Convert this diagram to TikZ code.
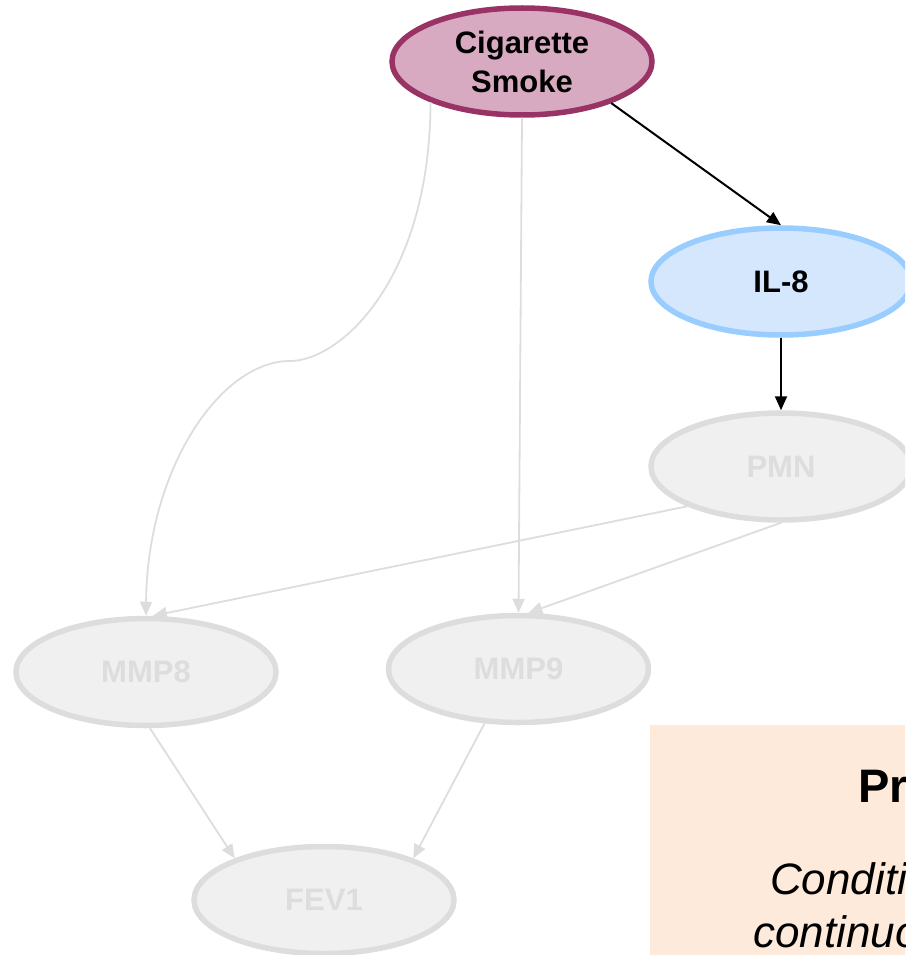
\documentclass[tikz,border=0pt]{standalone}
\usepackage{fontspec}
\setmainfont{Liberation Sans}
\usetikzlibrary{shapes.geometric,arrows.meta}

\definecolor{smokefill}{HTML}{D8AAC1}
\definecolor{smokeline}{HTML}{993366}
\definecolor{ilfill}{HTML}{D4E7FC}
\definecolor{illine}{HTML}{99CCFF}
\definecolor{offfill}{HTML}{F0F0F0}
\definecolor{offline}{HTML}{DDDDDD}
\definecolor{notefill}{HTML}{FDEADA}

\tikzset{
  var/.style={ellipse, draw, line width=5.5pt, minimum width=260pt, minimum height=107pt,
    inner sep=0pt, align=center, font=\bfseries\fontsize{31}{39}\selectfont},
  active/.style={var, fill=smokefill, draw=smokeline, text=black},
  target/.style={var, fill=ilfill, draw=illine, text=black},
  faded/.style={var, fill=offfill, draw=offline, text=offline},
  live/.style={draw=black, line width=2pt, -{Triangle[length=14pt,width=12pt]}},
  dim/.style={draw=offline, line width=1.8pt, -{Triangle[length=14pt,width=12pt]}},
  notetitle/.style={anchor=base west, inner sep=0pt, font=\bfseries\fontsize{47}{56}\selectfont},
  notetext/.style={anchor=base west, inner sep=0pt, font=\itshape\fontsize{44}{53}\selectfont},
}

\begin{document}
\begin{tikzpicture}[x=1pt,y=-1pt]
  \useasboundingbox (0,0) rectangle (905,955);
  \clip (0,0) rectangle (905,955);

  % note panel in the lower right
  \node[fill=notefill, inner sep=0pt, minimum width=280pt, minimum height=232pt, anchor=north west]
    (panel) at (650,725) {};
  \node[notetitle] (ntitle) at (858,802) {Pr};
  \node[notetext] (nline1) at (770,894) {Conditio};
  \node[notetext] (nline2) at (753,947) {continuo};

  % variables
  \node[active] (cs)   at (522,61.5) {Cigarette\\Smoke};
  \node[target] (il8)  at (781,281.5) {IL-8};
  \node[faded]  (pmn)  at (781,466.5) {PMN};
  \node[faded]  (mmp8) at (146,672) {MMP8};
  \node[faded]  (mmp9) at (518.5,669) {MMP9};
  \node[faded]  (fev1) at (324,900) {FEV1};

  % faded connectors
  \draw[dim] (cs.204) .. controls (430,280) and (340,361) .. (290,361)
                      .. controls (220,361) and (147,470) .. (mmp8.north);
  \draw[dim] (cs.south) -- (mmp9.north);
  \draw[dim] (pmn.203) -- (mmp8.83);
  \draw[dim] (pmn.south) -- (mmp9.80);
  \draw[dim] (mmp8.-86) -- (fev1.155);
  \draw[dim] (mmp9.238) -- (fev1.25);

  % active connectors
  \draw[live] (cs.-25) -- (il8.north);
  \draw[live] (il8.south) -- (pmn.north);
\end{tikzpicture}
\end{document}
